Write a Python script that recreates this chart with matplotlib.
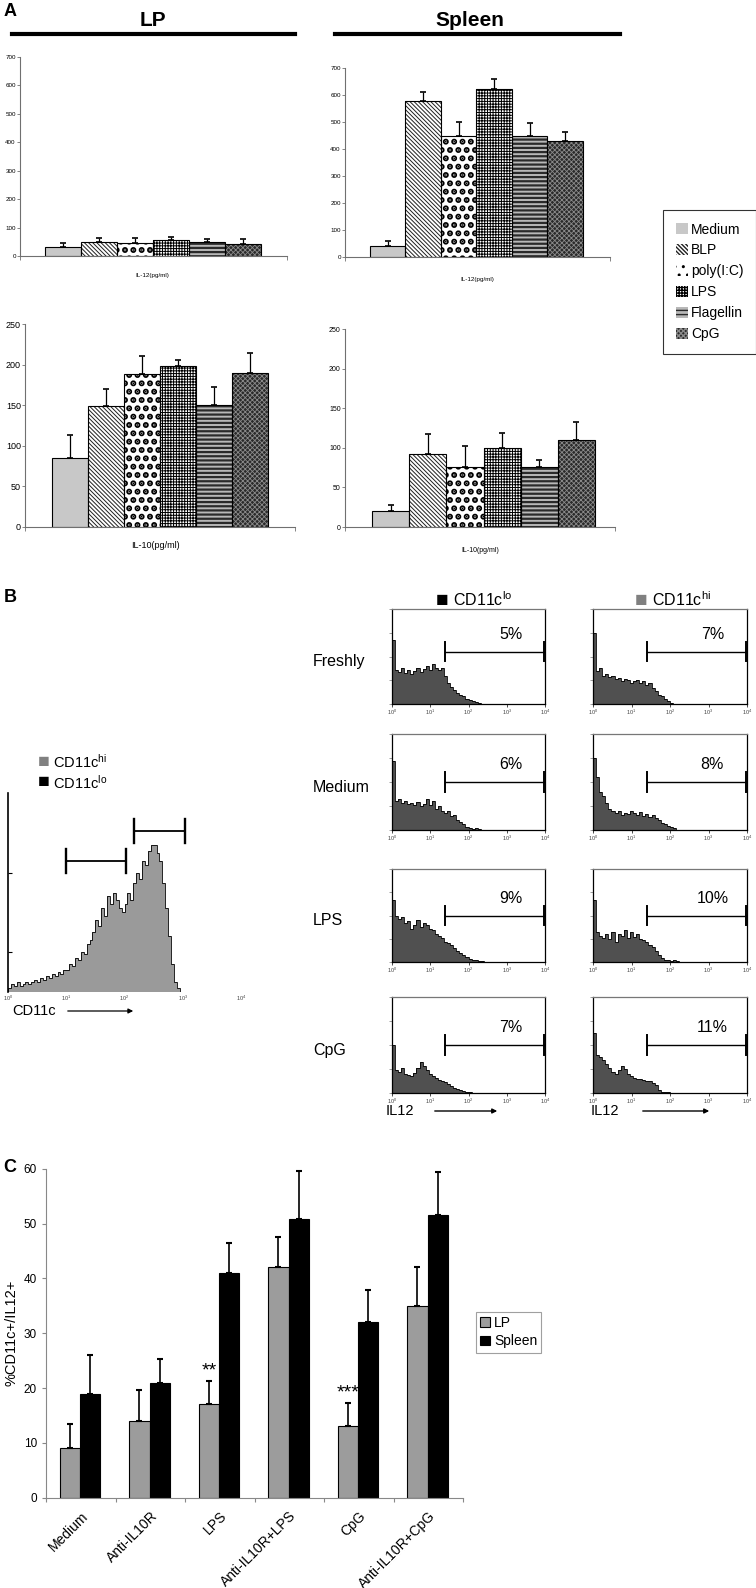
import numpy as np
import matplotlib
matplotlib.use('Agg')
import matplotlib.pyplot as plt
from matplotlib.patches import Patch, FancyArrowPatch
from matplotlib.lines import Line2D

plt.rcParams['font.family'] = ['Liberation Sans', 'DejaVu Sans']
plt.rcParams['mathtext.fontset'] = 'custom'
plt.rcParams['mathtext.rm'] = 'Liberation Sans'
plt.rcParams['mathtext.it'] = 'Liberation Sans:italic'
plt.rcParams['mathtext.bf'] = 'Liberation Sans:bold'

# ---------------- panel A : cytokines (pg/ml)
stimuli = ['Medium', 'BLP', 'poly(I:C)', 'LPS', 'Flagellin', 'CpG']
lp_il12 = [30, 50, 45, 55, 48, 42]
lp_il12_err = [15, 12, 17, 13, 12, 18]
spleen_il12 = [42, 578, 450, 621, 450, 431]
spleen_il12_err = [18, 33, 51, 40, 45, 31]
lp_il10 = [85, 149, 188, 198, 150, 190]
lp_il10_err = [28, 21, 22, 8, 23, 24]
spleen_il10 = [20, 92, 76, 100, 76, 110]
spleen_il10_err = [8, 25, 26, 19, 8, 23]

# ---------------- panel B : flow histograms
# CD11c profile, bins of 0.05 decade starting at 10^0
cd11c_counts = [0.02, 0.04, 0.03, 0.05, 0.03, 0.04, 0.05, 0.04, 0.05, 0.06,
                0.05, 0.07, 0.06, 0.08, 0.07, 0.09, 0.08, 0.10, 0.09, 0.11,
                0.11, 0.14, 0.13, 0.17, 0.16, 0.20, 0.19, 0.24, 0.26, 0.30,
                0.36, 0.33, 0.42, 0.38, 0.48, 0.44, 0.50, 0.46, 0.42, 0.40,
                0.44, 0.50, 0.46, 0.55, 0.60, 0.57, 0.66, 0.64, 0.71, 0.74,
                0.74, 0.70, 0.66, 0.55, 0.42, 0.28, 0.14, 0.05, 0.02, 0.00]
# IL12 profiles, bins of 0.08 decade starting at 10^0
freshly_lo = [0.67, 0.36, 0.34, 0.38, 0.33, 0.36, 0.32, 0.35, 0.38, 0.34,
              0.37, 0.40, 0.36, 0.42, 0.38, 0.36, 0.38, 0.30, 0.22, 0.18,
              0.15, 0.12, 0.10, 0.08, 0.05, 0.04, 0.03, 0.02, 0.01, 0.00]
freshly_hi = [0.75, 0.35, 0.38, 0.30, 0.32, 0.28, 0.30, 0.26, 0.27, 0.24,
              0.26, 0.25, 0.22, 0.24, 0.25, 0.22, 0.24, 0.20, 0.22, 0.17,
              0.14, 0.10, 0.08, 0.05, 0.03, 0.01, 0.00, 0.00, 0.00, 0.00]
medium_lo = [0.72, 0.30, 0.32, 0.28, 0.30, 0.27, 0.28, 0.26, 0.29, 0.25,
             0.27, 0.32, 0.26, 0.30, 0.22, 0.25, 0.20, 0.18, 0.20, 0.15,
             0.16, 0.10, 0.08, 0.06, 0.03, 0.02, 0.01, 0.02, 0.01, 0.00]
medium_hi = [0.75, 0.55, 0.40, 0.35, 0.28, 0.22, 0.20, 0.18, 0.20, 0.16,
             0.18, 0.17, 0.20, 0.18, 0.16, 0.19, 0.15, 0.17, 0.14, 0.16,
             0.12, 0.10, 0.07, 0.06, 0.04, 0.03, 0.02, 0.00, 0.00, 0.00]
lps_lo = [0.67, 0.50, 0.46, 0.48, 0.42, 0.44, 0.35, 0.40, 0.45, 0.38,
          0.42, 0.40, 0.36, 0.34, 0.30, 0.28, 0.26, 0.22, 0.20, 0.18,
          0.15, 0.12, 0.10, 0.07, 0.05, 0.03, 0.02, 0.02, 0.01, 0.01]
lps_hi = [0.67, 0.32, 0.28, 0.26, 0.30, 0.25, 0.32, 0.22, 0.30, 0.28,
          0.34, 0.26, 0.32, 0.27, 0.30, 0.25, 0.24, 0.22, 0.18, 0.16,
          0.12, 0.07, 0.04, 0.02, 0.02, 0.01, 0.02, 0.01, 0.00, 0.00]
cpg_lo = [0.50, 0.24, 0.22, 0.26, 0.20, 0.19, 0.18, 0.21, 0.26, 0.32,
          0.28, 0.24, 0.20, 0.18, 0.16, 0.14, 0.13, 0.11, 0.09, 0.07,
          0.05, 0.04, 0.03, 0.02, 0.01, 0.01, 0.00, 0.00, 0.00, 0.00]
cpg_hi = [0.62, 0.40, 0.38, 0.34, 0.30, 0.26, 0.22, 0.20, 0.24, 0.28,
          0.25, 0.20, 0.18, 0.16, 0.15, 0.15, 0.14, 0.13, 0.12, 0.10,
          0.08, 0.03, 0.01, 0.01, 0.01, 0.00, 0.00, 0.00, 0.00, 0.00]
row_names = ['Freshly', 'Medium', 'LPS', 'CpG']
pct_lo = ['5%', '6%', '9%', '7%']
pct_hi = ['7%', '8%', '10%', '11%']

# ---------------- panel C : %CD11c+/IL12+
treatments = ['Medium', 'Anti-IL10R', 'LPS', 'Anti-IL10R+LPS', 'CpG', 'Anti-IL10R+CpG']
lp_pct = [9, 14, 17, 42, 13, 35]
lp_pct_err = [4.4, 5.7, 4.3, 5.5, 4.3, 7.1]
spleen_pct = [19, 21, 41, 50.8, 32, 51.5]
spleen_pct_err = [7.1, 4.3, 5.5, 8.7, 5.8, 7.9]
stars = ['', '', '**', '', '***', '']

W, H = 756, 1588
fig = plt.figure(figsize=(W / 100, H / 100), dpi=100)


def fx(x):
    return x / W


def fy(y):
    return 1 - y / H


def px_axes(x0, y0, x1, y1):
    return fig.add_axes([x0 / W, 1 - y1 / H, (x1 - x0) / W, (y1 - y0) / H])


# face, hatch, hatch colour, hatch width
bar_styles = [('#c8c8c8', None, '#c8c8c8', 0.8),
              ('white', '\\\\\\\\\\\\\\\\', '#202020', 0.7),
              ('white', '..', 'black', 3.0),
              ('white', '++++++', 'black', 0.7),
              ('#b8b8b8', '----', '#2a2a2a', 1.6),
              ('#2a2a2a', 'xxxxxxx', '#8a8a8a', 0.6)]


def barras_citocina(ax, valores, erros):
    x = np.arange(len(valores))
    for i in x:
        face, hatch, hcor, hlw = bar_styles[i]
        cont = ax.bar(i, valores[i], width=1.0, color=face, edgecolor=hcor,
                      hatch=hatch, linewidth=0)
        if hasattr(cont[0], 'set_hatch_linewidth'):
            cont[0].set_hatch_linewidth(hlw)
    ax.bar(x, valores, width=1.0, fill=False, edgecolor='black', linewidth=0.8)
    ax.errorbar(x, valores, yerr=[np.zeros(len(valores)), erros], fmt='none',
                ecolor='black', elinewidth=0.9, capsize=2, capthick=1.2)


paineis_a = [
    ((20, 57, 287, 256), (-1.19, 6.22), 700, 100, lp_il12, lp_il12_err, 'IL-12(pg/ml)', (152, 275), 4.5),
    ((345, 68, 610, 257), (-1.2, 6.26), 700, 100, spleen_il12, spleen_il12_err, 'IL-12(pg/ml)', (477, 279), 4.5),
    ((25, 324, 295, 527), (-1.25, 6.25), 250, 50, lp_il10, lp_il10_err, 'IL-10(pg/ml)', (155, 546), 6.5),
    ((345, 329, 615, 527), (-1.23, 6.04), 250, 50, spleen_il10, spleen_il10_err, 'IL-10(pg/ml)', (480, 551), 5),
]
for rect, xlim, ymax, ystep, vals, errs, rotulo, pos, fs in paineis_a:
    ax = px_axes(*rect)
    barras_citocina(ax, vals, errs)
    ax.set_xlim(*xlim)
    ax.set_ylim(0, ymax)
    ax.set_yticks(np.arange(0, ymax + 1, ystep))
    ax.set_xticks(list(xlim))
    ax.set_xticklabels([])
    for lado in ['top', 'right']:
        ax.spines[lado].set_visible(False)
    for lado in ['left', 'bottom']:
        ax.spines[lado].set_color('#707070')
        ax.spines[lado].set_linewidth(0.8)
    ax.tick_params(axis='y', labelsize=fs, length=2, width=0.6, color='#707070', pad=1)
    ax.tick_params(axis='x', length=3, width=0.6, color='#707070')
    fig.text(fx(pos[0]), fy(pos[1]), rotulo, fontsize=fs, ha='center', va='center')

fig.text(fx(4), fy(12), 'A', fontsize=13, fontweight='bold', va='center')
fig.text(fx(153), fy(20), 'LP', fontsize=15, fontweight='bold', ha='center', va='center')
fig.text(fx(470), fy(20), 'Spleen', fontsize=15, fontweight='bold', ha='center', va='center')
fig.add_artist(Line2D([fx(12), fx(295)], [fy(34), fy(34)], lw=3, color='black'))
fig.add_artist(Line2D([fx(335), fx(620)], [fy(34), fy(34)], lw=3, color='black'))

alcas = [Patch(facecolor=f, edgecolor=c, hatch=h, linewidth=0) for f, h, c, _ in bar_styles]
leg = fig.legend(alcas, stimuli, loc='upper left', bbox_to_anchor=(fx(663), fy(210)),
                 frameon=True, fancybox=False, edgecolor='black', fontsize=10,
                 handlelength=0.9, handleheight=0.9, handletextpad=0.2,
                 labelspacing=0.5, borderpad=0.9, borderaxespad=0)
leg.get_frame().set_linewidth(0.8)

# ---------------- panel B
fig.text(fx(4), fy(598), 'B', fontsize=13, fontweight='bold', va='center')


def histograma(ax, contagens, passo, cor):
    bordas = 10 ** (np.arange(len(contagens) + 1) * passo)
    ax.stairs(contagens, bordas, fill=True, color=cor, baseline=0)
    ax.stairs(contagens, bordas, color='black', lw=0.6, baseline=0)
    ax.set_xscale('log')
    ax.set_xlim(1, 1e4)
    ax.set_ylim(0, 1)
    ax.set_xticks([1, 10, 100, 1000, 10000])
    ax.minorticks_off()


def gate(ax, x0, x1, y, meia, lw):
    ax.plot([x0, x1], [y, y], color='black', lw=lw)
    ax.plot([x0, x0], [y - meia, y + meia], color='black', lw=lw + 0.4)
    ax.plot([x1, x1], [y - meia, y + meia], color='black', lw=lw + 0.4)


axb = px_axes(8, 793, 241, 992)
histograma(axb, cd11c_counts, 0.05, '#9a9a9a')
for lado in ['top', 'right', 'bottom']:
    axb.spines[lado].set_visible(False)
axb.spines['left'].set_linewidth(1.2)
axb.set_yticks([0.2, 0.6])
axb.set_yticklabels([])
axb.tick_params(axis='y', direction='in', length=3)
axb.tick_params(axis='x', length=0, labelsize=4, labelcolor='#444444', pad=1)
gate(axb, 10 ** 1.0, 10 ** 2.02, 0.66, 0.06, 1.3)
gate(axb, 10 ** 2.16, 10 ** 3.04, 0.81, 0.06, 1.3)

fig.text(fx(38), fy(762), '■', color='#808080', fontsize=14, va='center')
fig.text(fx(53), fy(762), 'CD11c$^{\\mathrm{hi}}$', fontsize=10.5, va='center')
fig.text(fx(38), fy(783), '■', color='black', fontsize=14, va='center')
fig.text(fx(53), fy(783), 'CD11c$^{\\mathrm{lo}}$', fontsize=10.5, va='center')
fig.text(fx(12), fy(1011), 'CD11c', fontsize=10.5, va='center')
fig.add_artist(FancyArrowPatch((fx(65), fy(1011)), (fx(136), fy(1011)),
                               transform=fig.transFigure, arrowstyle='-|>',
                               mutation_scale=7, lw=0.9, color='black'))

fig.text(fx(436), fy(600), '■', color='black', fontsize=15, va='center')
fig.text(fx(453), fy(600), 'CD11c$^{\\mathrm{lo}}$', fontsize=11.5, va='center')
fig.text(fx(635), fy(600), '■', color='#808080', fontsize=15, va='center')
fig.text(fx(652), fy(600), 'CD11c$^{\\mathrm{hi}}$', fontsize=11.5, va='center')

grade = [(freshly_lo, freshly_hi), (medium_lo, medium_hi), (lps_lo, lps_hi), (cpg_lo, cpg_hi)]
linhas_y = [(609, 704), (734, 830), (869, 962), (997, 1093)]
colunas_x = [(392, 545), (593, 747)]
gate_y = [0.55, 0.5, 0.5, 0.5]
for r, (y0, y1) in enumerate(linhas_y):
    for c, (x0, x1) in enumerate(colunas_x):
        ax = px_axes(x0, y0, x1, y1)
        histograma(ax, grade[r][c], 0.08, '#505050')
        for lado in ax.spines.values():
            lado.set_linewidth(0.9)
        ax.spines['top'].set_color('#777777')
        ax.set_yticks([0, 0.25, 0.5, 0.75, 1.0])
        ax.set_yticklabels([])
        ax.tick_params(axis='y', length=2, width=0.5, color='#777777')
        ax.tick_params(axis='x', length=2, width=0.5, labelsize=4,
                       labelcolor='#444444', pad=1)
        gate(ax, 10 ** 1.39, 10 ** 3.97, gate_y[r], 0.1, 1.0)
        pct = pct_lo[r] if c == 0 else pct_hi[r]
        ax.text(10 ** 3.1, gate_y[r] + 0.1, pct, fontsize=11.5, ha='center', va='bottom')
    fig.text(fx(313), fy((y0 + y1) / 2 + 5), row_names[r], fontsize=11.5, va='center')

for xt, xa0, xa1 in [(386, 432, 500), (591, 640, 712)]:
    fig.text(fx(xt), fy(1111), 'IL12', fontsize=10.5, va='center')
    fig.add_artist(FancyArrowPatch((fx(xa0), fy(1111)), (fx(xa1), fy(1111)),
                                   transform=fig.transFigure, arrowstyle='-|>',
                                   mutation_scale=7, lw=1.0, color='black'))

# ---------------- panel C
fig.text(fx(3), fy(1168), 'C', fontsize=13, fontweight='bold', va='center')
axc = px_axes(46, 1168.7, 463, 1497.7)
xc = np.arange(len(treatments))
axc.bar(xc + 0.345, lp_pct, width=0.29, color='#9c9c9c', edgecolor='black',
        linewidth=0.8, label='LP')
axc.bar(xc + 0.635, spleen_pct, width=0.29, color='black', edgecolor='black',
        linewidth=0.8, label='Spleen')
axc.errorbar(xc + 0.345, lp_pct, yerr=[np.zeros(len(lp_pct)), lp_pct_err], fmt='none',
             ecolor='black', elinewidth=1.2, capsize=2.5, capthick=1.5)
axc.errorbar(xc + 0.635, spleen_pct, yerr=[np.zeros(len(spleen_pct)), spleen_pct_err],
             fmt='none', ecolor='black', elinewidth=1.2, capsize=2.5, capthick=1.5)
for i, s in enumerate(stars):
    if s:
        axc.text(i + 0.345, lp_pct[i] + lp_pct_err[i] + 0.2, s, fontsize=14,
                 ha='center', va='bottom')
axc.set_xlim(0, 6)
axc.set_ylim(0, 60)
axc.set_yticks(np.arange(0, 61, 10))
axc.set_xticks(np.arange(0, 7))
axc.set_xticklabels([])
axc.set_xticks(xc + 0.5, minor=True)
axc.set_xticklabels(treatments, minor=True, rotation=45, ha='right',
                    rotation_mode='anchor', fontsize=10)
axc.tick_params(axis='x', which='minor', length=0, pad=8)
axc.tick_params(axis='x', which='major', length=3, color='#888888')
axc.tick_params(axis='y', labelsize=8.5, length=3, color='#888888')
for lado in ['top', 'right']:
    axc.spines[lado].set_visible(False)
for lado in ['left', 'bottom']:
    axc.spines[lado].set_color('#888888')
axc.set_ylabel('%CD11c+/IL12+', fontsize=10.5, labelpad=4)
legc = axc.legend(loc='upper left', bbox_to_anchor=(fx(476), fy(1312)),
                  bbox_transform=fig.transFigure, fancybox=False, edgecolor='#888888',
                  fontsize=10, handlelength=0.7, handleheight=0.7, handletextpad=0.3,
                  borderpad=0.3, labelspacing=0.3, borderaxespad=0)
legc.get_frame().set_linewidth(0.8)

fig.savefig('out.png', dpi=100)
